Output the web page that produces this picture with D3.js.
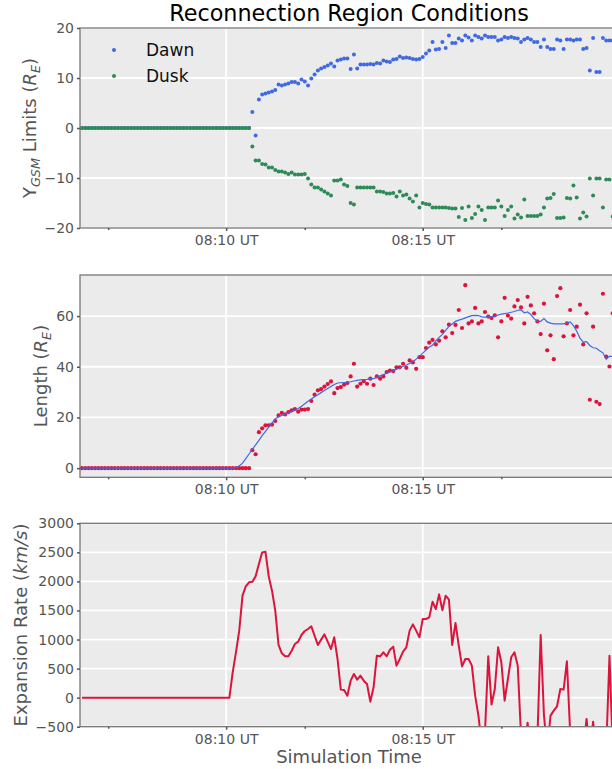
<!DOCTYPE html>
<html>
<head>
<meta charset="utf-8">
<script src="https://d3js.org/d3.v7.min.js"></script>
<style>
  body { margin: 0; background: #fff; }
  svg { display: block; font-family: "DejaVu Sans", sans-serif; }
</style>
</head>
<body>
<script>

// Samples every 5 s starting 08:06:20 UT
var startTime = [8, 6, 20];
var stepSeconds = 5;

// Y_GSM limits (R_E)
var dawn = [
  0, 0, 0, 0, 0, 0, 0, 0, 0, 0,
  0, 0, 0, 0, 0, 0, 0, 0, 0, 0,
  0, 0, 0, 0, 0, 0, 0, 0, 0, 0,
  0, 0, 0, 0, 0, 0, 0, 0, 0, 0,
  0, 0, 0, 0, 0, 0, 0, 0, 0, 0,
  0, 0,
  3.2, -1.5, 5.7, 6.7, 6.9, 7.1, 7.3, 7.6, 8.7, 8.5,
  8.7, 8.9, 9.2, 9.2, 8.9, 9.7, 9.3, 8.5, 9.9, 10.7,
  11.5, 11.9, 12.2, 12.5, 12.9, 12.3, 13.5, 13.7, 13.9, 13.9,
  11.8, 14.7, 11.9, 12.7, 12.7, 12.7, 12.8, 12.7, 13.0, 12.9,
  13.5, 13.3, 13.2, 13.7, 13.8, 14.3, 14.0, 14.1, 14.0, 13.8,
  13.7, 13.8, 14.2, 14.9, 15.5, 17.2, 15.7, 15.8, 17.2, 16.0,
  18.5, 17.0, 17.0, 17.9, 17.5, 18.5, 18.1, 17.5, 18.5, 18.2,
  17.9, 18.5, 18.2, 18.2, 18.2, 17.5, 17.7, 18.2, 18.0, 18.2,
  18.0, 17.9, 17.2, 17.7, 18.0, 17.7, 17.2, 17.2, 16.2, 17.7,
  16.2, 15.8, 15.8, 17.7, 17.5, 15.8, 17.7, 17.7, 17.5, 17.7,
  17.7, 15.8, 16.0, 11.5, 18.0, 11.2, 11.2, 18.0, 17.5, 17.5,
  17.5
];

var dusk = [
  0, 0, 0, 0, 0, 0, 0, 0, 0, 0,
  0, 0, 0, 0, 0, 0, 0, 0, 0, 0,
  0, 0, 0, 0, 0, 0, 0, 0, 0, 0,
  0, 0, 0, 0, 0, 0, 0, 0, 0, 0,
  0, 0, 0, 0, 0, 0, 0, 0, 0, 0,
  0, 0,
  -3.7, -6.5, -6.5, -7.2, -7.3, -7.9, -7.9, -8.4, -8.7, -8.7,
  -8.9, -9.2, -8.9, -9.3, -9.3, -9.3, -9.2, -10.1, -11.3, -11.9,
  -11.9, -12.3, -12.7, -13.1, -13.5, -10.5, -10.5, -10.3, -11.3, -11.6,
  -15.0, -15.3, -11.9, -11.9, -11.9, -11.9, -11.9, -11.9, -12.7, -12.7,
  -12.8, -13.1, -13.1, -13.0, -13.7, -12.7, -13.5, -13.3, -14.1, -14.7,
  -13.5, -15.9, -15.0, -15.2, -15.3, -15.9, -15.9, -15.9, -15.9, -15.9,
  -16.0, -16.1, -16.1, -17.8, -16.0, -18.4, -15.7, -18.0, -17.2, -15.7,
  -16.4, -18.4, -15.9, -15.9, -15.9, -14.5, -15.7, -17.6, -16.4, -15.7,
  -18.1, -17.3, -17.9, -14.3, -17.6, -17.6, -17.6, -17.6, -17.3, -15.9,
  -14.1, -14.0, -13.2, -18.0, -18.0, -17.9, -14.0, -14.1, -11.5, -13.9,
  -18.1, -16.9, -17.7, -10.1, -13.5, -10.1, -10.1, -15.9, -10.3, -10.3,
  -17.7
];

// Length (R_E), raw and running mean
var lengthRaw = [
  0, 0, 0, 0, 0, 0, 0, 0, 0, 0,
  0, 0, 0, 0, 0, 0, 0, 0, 0, 0,
  0, 0, 0, 0, 0, 0, 0, 0, 0, 0,
  0, 0, 0, 0, 0, 0, 0, 0, 0, 0,
  0, 0, 0, 0, 0, 0, 0, 0, 0, 0,
  0, 0,
  7.1, 5.5, 14.2, 15.7, 16.9, 16.9, 17.2, 18.6, 20.8, 21.8,
  21.2, 22.1, 22.8, 23.3, 22.3, 23.1, 23.1, 23.3, 26.5, 29.0,
  30.7, 31.2, 32.2, 33.2, 34.2, 29.6, 31.6, 32.0, 32.9, 33.6,
  36.2, 41.2, 32.2, 33.3, 34.3, 33.3, 35.3, 32.8, 36.2, 35.3,
  36.2, 37.9, 38.5, 38.3, 39.8, 39.8, 41.2, 39.6, 42.5, 41.7,
  39.2, 43.8, 43.8, 47.4, 49.5, 50.6, 48.8, 50.3, 54.0, 51.6,
  56.6, 53.3, 56.5, 62.4, 55.3, 72.2, 57.1, 57.9, 63.2, 57.1,
  57.9, 61.6, 59.8, 59.2, 60.3, 51.6, 57.9, 67.2, 60.2, 59.0,
  63.8, 66.3, 63.4, 57.1, 67.6, 64.2, 61.1, 57.9, 52.9, 64.9,
  46.5, 52.4, 43.0, 67.9, 71.0, 52.0, 57.1, 62.4, 52.4, 55.8,
  64.5, 48.8, 61.1, 27.0, 55.8, 26.2, 25.3, 68.8, 44.0, 40.1,
  61.1
];

var lengthSmooth = [
  0, 0, 0, 0, 0, 0, 0, 0, 0, 0,
  0, 0, 0, 0, 0, 0, 0, 0, 0, 0,
  0, 0, 0, 0, 0, 0, 0, 0, 0, 0,
  0, 0, 0, 0, 0, 0, 0, 0, 0, 0,
  0, 0, 0, 0, 0, 0, 0,
  0.2, 0.9, 2.0, 3.8, 5.6,
  7.4, 9.2, 11.0, 12.8, 14.5, 16.2, 17.8, 19.5, 20.3, 20.8,
  21.3, 21.8, 22.3, 22.9, 23.5, 24.4, 25.4, 26.4, 27.3, 28.2,
  29.0, 29.8, 30.6, 31.4, 32.2, 33.0, 33.6, 33.7, 33.8, 33.9,
  34.1, 34.4, 34.6, 34.8, 34.9, 35.0, 35.2, 35.3, 35.8, 36.4,
  36.9, 37.5, 38.0, 38.5, 39.0, 39.5, 40.1, 40.7, 41.3, 42.0,
  43.0, 44.2, 45.4, 46.6, 47.8, 48.5, 50.2, 51.6, 52.8, 54.4,
  55.9, 56.9, 57.9, 58.4, 58.8, 59.3, 59.8, 60.2, 60.3, 60.2,
  59.7, 59.6, 59.8, 59.5, 59.9, 60.4, 60.8, 61.0, 61.2, 61.5,
  61.8, 62.3, 62.4, 61.3, 61.6, 60.6, 59.0, 57.9, 57.9, 59.0,
  57.7, 57.2, 56.9, 56.9, 56.9, 56.9, 57.2, 57.7, 56.2, 54.0,
  51.3, 49.7, 49.9, 48.4, 47.5, 47.3, 46.3, 45.5, 43.0, 44.2,
  44.0
];

// Expansion rate (km/s)
var expansionRate = [
  0, 0, 0, 0, 0, 0, 0, 0, 0, 0,
  0, 0, 0, 0, 0, 0, 0, 0, 0, 0,
  0, 0, 0, 0, 0, 0, 0, 0, 0, 0,
  0, 0, 0, 0, 0, 0, 0, 0, 0, 0,
  0, 0, 0, 0, 0, 0,
  436, 780, 1153, 1755, 1915, 1984,
  1995, 2087, 2299, 2500, 2511, 2087, 1841, 1497, 906, 763,
  711, 711, 808, 923, 963, 1078, 1147, 1181, 1227, 1067,
  906, 998, 1089, 963, 837, 1038, 665, 138, 132, 34,
  292, 407, 310, 378, 292, 235, -69, 178, 722, 711,
  780, 711, 826, 877, 550, 665, 791, 866, 1153, 1261,
  1153, 1038, 1353, 1353, 1382, 1651, 1525, 1777, 1502, 1755,
  1686, 906, 1284, 894, 539, 665, 665, 550, 34, -310,
  -800, -600, 711, -120, 149, 866, 608, -52, 321, 694,
  780, 550, -650, -900, -430, -900, -900, -700, 1078, -300,
  -900, -310, -224, -149, 149, 138, 625, -600, -900, -900,
  -900, -900, -367, -900, -413, -900, -900, -900, -900, 722,
  -900
];

var majorTicks = ["08:10", "08:15"];
var minorTicks = ["08:07", "08:12", "08:17"];
var ticksTop = [-20, -10, 0, 10, 20];
var ticksMid = [0, 20, 40, 60];
var ticksBottom = [-500, 0, 500, 1000, 1500, 2000, 2500, 3000];

// ---------------------------------------------------------------

function utc(h, m, s) { return new Date(Date.UTC(2015, 0, 1, h, m, s)); }
function hm(str) { var p = str.split(":"); return utc(+p[0], +p[1], 0); }

var times = d3.range(dawn.length).map(function(i) {
  return utc(startTime[0], startTime[1], startTime[2] + i * stepSeconds);
});

var W = 612, H = 769;
var left = 80, right = 618;
var grey = "#555555";

var svg = d3.select("body").append("svg")
  .attr("width", W)
  .attr("height", H);

var x = d3.scaleUtc()
  .domain([utc(8, 6, 17), utc(8, 19, 58)])
  .range([left, right]);

function panel(id, top, bottom, domain, ticks) {
  var y = d3.scaleLinear().domain(domain).range([bottom, top]);
  var g = svg.append("g");

  g.append("rect")
    .attr("x", left).attr("y", top)
    .attr("width", right - left).attr("height", bottom - top)
    .attr("fill", "#ebebeb");

  g.selectAll(".hgrid").data(ticks).enter().append("line")
    .attr("x1", left).attr("x2", right)
    .attr("y1", function(d) { return y(d); })
    .attr("y2", function(d) { return y(d); })
    .attr("stroke", "#fff").attr("stroke-width", 1.8);

  g.selectAll(".vgrid").data(majorTicks.map(hm)).enter().append("line")
    .attr("x1", function(d) { return x(d); })
    .attr("x2", function(d) { return x(d); })
    .attr("y1", top).attr("y2", bottom)
    .attr("stroke", "#fff").attr("stroke-width", 1.8);

  svg.append("clipPath").attr("id", id)
    .append("rect")
    .attr("x", left).attr("y", top)
    .attr("width", right - left).attr("height", bottom - top);

  var plot = g.append("g").attr("clip-path", "url(#" + id + ")");

  // frame and axes drawn after data
  var over = svg.append("g");
  over.append("rect")
    .attr("x", left).attr("y", top)
    .attr("width", right - left).attr("height", bottom - top)
    .attr("fill", "none").attr("stroke", "#777").attr("stroke-width", 1.3);

  var ya = over.append("g")
    .attr("transform", "translate(" + left + ",0)")
    .call(d3.axisLeft(y).tickValues(ticks).tickFormat(d3.format("d"))
      .tickSize(3).tickPadding(3));
  var xa = over.append("g")
    .attr("transform", "translate(0," + bottom + ")")
    .call(d3.axisBottom(x).tickValues(majorTicks.map(hm))
      .tickFormat(d3.utcFormat("%H:%M UT")).tickSize(3).tickPadding(4));
  var xm = over.append("g")
    .attr("transform", "translate(0," + bottom + ")")
    .call(d3.axisBottom(x).tickValues(minorTicks.map(hm))
      .tickFormat("").tickSize(2));

  [ya, xa, xm].forEach(function(a) {
    a.select(".domain").remove();
    a.selectAll("line").attr("stroke", grey).attr("stroke-width", 1.5);
    a.selectAll("text").attr("fill", grey)
      .style("font-family", "DejaVu Sans").style("font-size", "14px");
  });

  return { y: y, plot: plot, top: top, bottom: bottom };
}

function yLabel(xPos, yPos, parts) {
  var t = svg.append("text")
    .attr("transform", "translate(" + xPos + "," + yPos + ") rotate(-90)")
    .attr("text-anchor", "middle")
    .attr("fill", grey)
    .style("font-size", "18px");
  var shift = 0;
  parts.forEach(function(p) {
    var s = t.append("tspan").text(p.text);
    if (p.italic) s.style("font-style", "italic");
    var want = p.sub ? 4 : 0;
    if (want !== shift) { s.attr("dy", want - shift); shift = want; }
    if (p.sub) s.style("font-size", "12.8px");
  });
}

// Panel 1: Y_GSM limits
var p1 = panel("clip1", 28, 228, [-20, 20], ticksTop);
p1.plot.selectAll(".dawn").data(dawn).enter().append("circle")
  .attr("cx", function(d, i) { return x(times[i]); })
  .attr("cy", function(d) { return p1.y(d); })
  .attr("r", 2).attr("fill", "royalblue");
p1.plot.selectAll(".dusk").data(dusk).enter().append("circle")
  .attr("cx", function(d, i) { return x(times[i]); })
  .attr("cy", function(d) { return p1.y(d); })
  .attr("r", 2).attr("fill", "seagreen");

var legend = svg.append("g");
[["Dawn", "royalblue"], ["Dusk", "seagreen"]].forEach(function(e, i) {
  legend.append("circle").attr("cx", 114).attr("cy", 50 + i * 26)
    .attr("r", 2).attr("fill", e[1]);
  legend.append("text").attr("x", 146).attr("y", 56 + i * 26)
    .attr("fill", "#111").style("font-size", "17px").text(e[0]);
});

// Panel 2: length
var p2 = panel("clip2", 275, 477.3, [-3.6, 76.2], ticksMid);
p2.plot.selectAll(".len").data(lengthRaw).enter().append("circle")
  .attr("cx", function(d, i) { return x(times[i]); })
  .attr("cy", function(d) { return p2.y(d); })
  .attr("r", 2.1).attr("fill", "crimson");
p2.plot.append("path")
  .datum(lengthSmooth)
  .attr("fill", "none").attr("stroke", "royalblue").attr("stroke-width", 1.2)
  .attr("d", d3.line()
    .x(function(d, i) { return x(times[i]); })
    .y(function(d) { return p2.y(d); }));

// Panel 3: expansion rate
var p3 = panel("clip3", 523.3, 726.7, [-500, 3000], ticksBottom);
p3.plot.append("path")
  .datum(expansionRate)
  .attr("fill", "none").attr("stroke", "crimson").attr("stroke-width", 2)
  .attr("stroke-linejoin", "round")
  .attr("d", d3.line()
    .x(function(d, i) { return x(times[i]); })
    .y(function(d) { return p3.y(d); }));

// Labels
svg.append("text")
  .attr("x", (left + right) / 2).attr("y", 20.5)
  .attr("text-anchor", "middle").attr("fill", "#000")
  .style("font-size", "22.3px")
  .text("Reconnection Region Conditions");

svg.append("text")
  .attr("x", (left + right) / 2).attr("y", 763)
  .attr("text-anchor", "middle").attr("fill", grey)
  .style("font-size", "18px")
  .text("Simulation Time");

yLabel(36, 128, [
  { text: "Y" }, { text: "GSM", italic: true, sub: true },
  { text: " Limits (" }, { text: "R", italic: true },
  { text: "E", italic: true, sub: true }, { text: ")" }
]);
yLabel(47, 376, [
  { text: "Length (" }, { text: "R", italic: true },
  { text: "E", italic: true, sub: true }, { text: ")" }
]);
yLabel(27, 625, [
  { text: "Expansion Rate (" }, { text: "km/s", italic: true }, { text: ")" }
]);

</script>
</body>
</html>
